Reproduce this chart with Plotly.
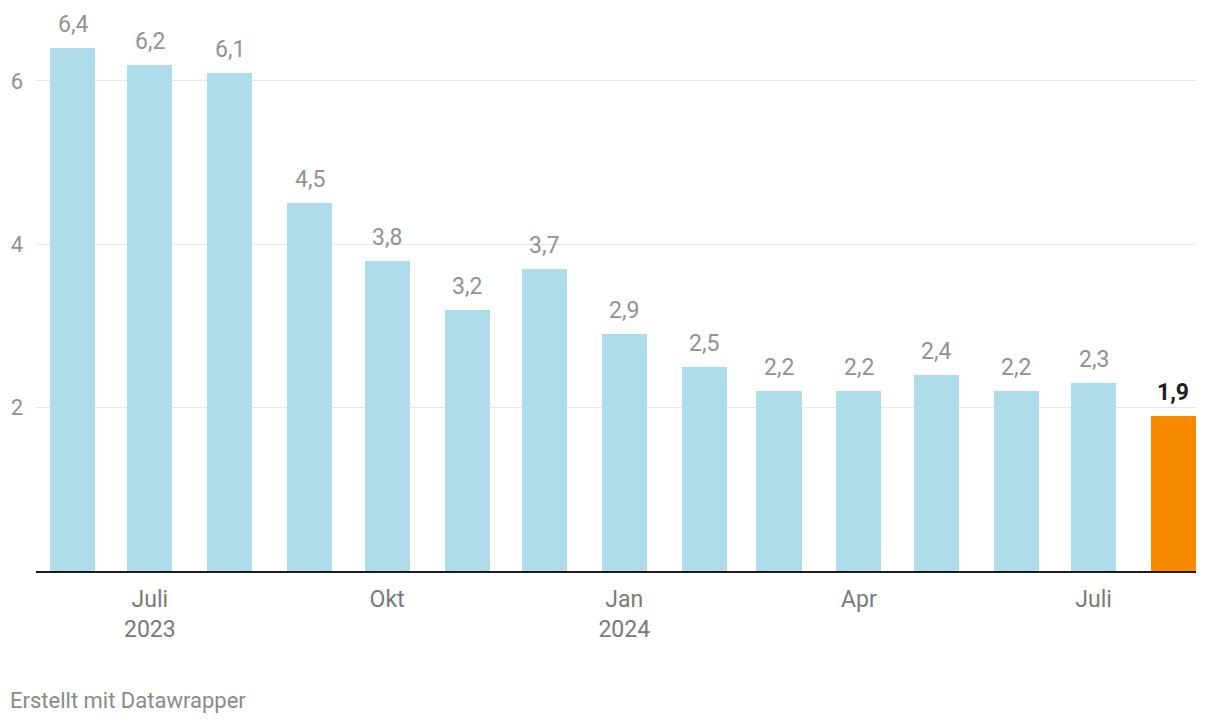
import pandas as pd
import plotly.graph_objects as go

months = ["2023-06-01", "2023-07-01", "2023-08-01", "2023-09-01", "2023-10-01",
          "2023-11-01", "2023-12-01", "2024-01-01", "2024-02-01", "2024-03-01",
          "2024-04-01", "2024-05-01", "2024-06-01", "2024-07-01", "2024-08-01"]
values = [6.4, 6.2, 6.1, 4.5, 3.8, 3.2, 3.7, 2.9, 2.5, 2.2, 2.2, 2.4, 2.2, 2.3, 1.9]
labels = ["6,4", "6,2", "6,1", "4,5", "3,8", "3,2", "3,7", "2,9", "2,5", "2,2",
          "2,2", "2,4", "2,2", "2,3", "1,9"]
xtick_vals = ["2023-07-01", "2023-10-01", "2024-01-01", "2024-04-01", "2024-07-01"]
xtick_text = ["Juli<br>2023", "Okt", "Jan<br>2024", "Apr", "Juli"]
ytick_vals = [2, 4, 6]
ytick_text = ["2", "4", "6"]

BLUE = "#aedcea"
ORANGE = "#f78b00"
colors = [BLUE] * (len(values) - 1) + [ORANGE]

dates = pd.to_datetime(months)
day_ms = 86400000
bar_width = 17.46 * day_ms
x_left = dates[0] - pd.Timedelta(days=14.16)
x_right = dates[-1] + pd.Timedelta(days=8.73)

fig = go.Figure()
fig.add_trace(go.Bar(
    x=dates, y=values, marker=dict(color=colors, line=dict(width=0)),
    width=[bar_width] * len(values), hoverinfo="skip",
))

for i, (d, v, t) in enumerate(zip(dates, values, labels)):
    last = i == len(values) - 1
    fig.add_annotation(
        x=d, y=v, text=f"<b>{t}</b>" if last else t, showarrow=False,
        yanchor="bottom", yshift=8,
        font=dict(family="Roboto", size=23, color="#1d1d1d" if last else "#929292"),
    )

fig.add_annotation(
    x=0, xref="paper", xanchor="left", xshift=-28,
    y=0, yref="paper", yanchor="middle", yshift=-129,
    text="Erstellt mit Datawrapper", showarrow=False,
    font=dict(family="Roboto", size=22, color="#8a8a8a"),
)

fig.update_layout(
    width=1220, height=724,
    margin=dict(l=36, r=24, t=0, b=153),
    paper_bgcolor="white", plot_bgcolor="white",
    showlegend=False, bargap=0,
    xaxis=dict(
        type="date", range=[x_left, x_right],
        tickvals=pd.to_datetime(xtick_vals), ticktext=xtick_text,
        showgrid=False, zeroline=False,
        showline=True, linecolor="#1d1d1d", linewidth=2,
        ticks="", ticklabelstandoff=6,
        tickfont=dict(family="Roboto", size=23, color="#7a7a7a"),
    ),
    yaxis=dict(
        range=[0, 571 / 81.67], tickvals=ytick_vals, ticktext=ytick_text,
        showgrid=True, gridcolor="#e6e6e6", gridwidth=1,
        zeroline=False, showline=False, ticks="", ticklabelstandoff=12,
        tickfont=dict(family="Roboto", size=22, color="#929292"),
    ),
)

fig.write_html("out.html")
